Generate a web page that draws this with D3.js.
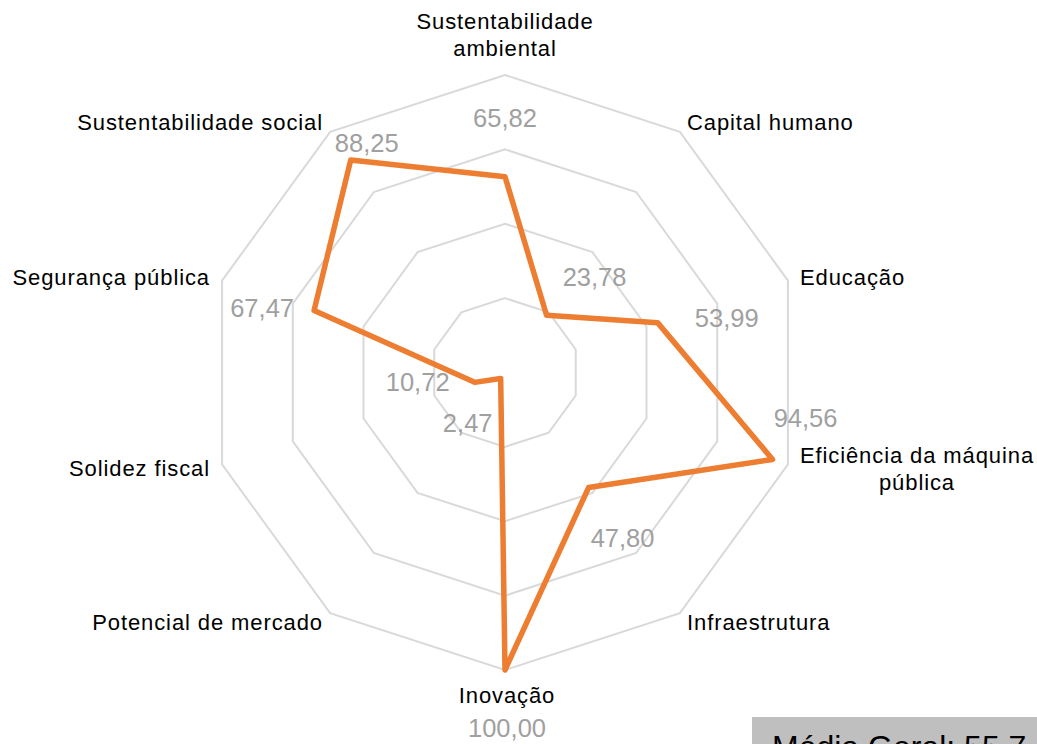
<!DOCTYPE html>
<html>
<head>
<meta charset="utf-8">
<script src="https://cdn.jsdelivr.net/npm/d3@7"></script>
<style>
  body { margin: 0; background: #fff; }
  svg { display: block; font-family: "Liberation Sans", Arial, sans-serif; }
</style>
</head>
<body>
<svg id="chart" width="1037" height="744"></svg>
<script>
// categories, clockwise from the top
const categories = [
  "Sustentabilidade ambiental", "Capital humano", "Educação",
  "Eficiência da máquina pública", "Infraestrutura", "Inovação",
  "Potencial de mercado", "Solidez fiscal", "Segurança pública",
  "Sustentabilidade social"
];
const scores = [65.82, 23.78, 53.99, 94.56, 47.80, 100.00, 2.47, 10.72, 67.47, 88.25];
const gridLevels = [25, 50, 75, 100];
const averageText = "Média Geral: 55,7";

// where each category label / value label sits (layout only)
const catLayout = [
  { lines: ["Sustentabilidade", "ambiental"], x: 505, y: 29, anchor: "middle" },
  { lines: ["Capital humano"], x: 687, y: 130, anchor: "start" },
  { lines: ["Educação"], x: 800, y: 285, anchor: "start" },
  { lines: ["Eficiência da máquina", "pública"], x: 917, y: 463, anchor: "middle" },
  { lines: ["Infraestrutura"], x: 687, y: 630, anchor: "start" },
  { lines: ["Inovação"], x: 507, y: 703, anchor: "middle" },
  { lines: ["Potencial de mercado"], x: 323, y: 630, anchor: "end" },
  { lines: ["Solidez fiscal"], x: 210, y: 476, anchor: "end" },
  { lines: ["Segurança pública"], x: 210, y: 285, anchor: "end" },
  { lines: ["Sustentabilidade social"], x: 323, y: 130, anchor: "end" }
];
const valueOffsets = [
  [0, -59], [48, -38], [69, -5], [33, -41], [34, 50],
  [2, 58], [-33, 45], [-57, 0], [-52, -2], [16, -17]
];

const cx = 505, cy = 372.5, R = 297.5;
const svg = d3.select("#chart");

const r = d3.scaleLinear().domain([0, 100]).range([0, R]);
const angle = d3.scaleLinear().domain([0, categories.length]).range([0, 2 * Math.PI]);

function pt(i, v) {
  const a = angle(i);
  return [cx + r(v) * Math.sin(a), cy - r(v) * Math.cos(a)];
}

const line = d3.line().curve(d3.curveLinearClosed);

// grid rings
svg.append("g").selectAll("path")
  .data(gridLevels)
  .join("path")
  .attr("d", lv => line(categories.map((c, i) => pt(i, lv))))
  .attr("fill", "none")
  .attr("stroke", "#d9d9d9")
  .attr("stroke-width", 2);

// series
svg.append("path")
  .datum(scores)
  .attr("d", d => line(d.map((v, i) => pt(i, v))))
  .attr("fill", "none")
  .attr("stroke", "#ed7d31")
  .attr("stroke-width", 5.5)
  .attr("stroke-linejoin", "round");

// category labels
const cat = svg.append("g").selectAll("text")
  .data(catLayout)
  .join("text")
  .attr("x", d => d.x)
  .attr("y", d => d.y)
  .attr("text-anchor", d => d.anchor)
  .attr("font-size", 22)
  .attr("letter-spacing", 0.9)
  .attr("fill", "#000");
cat.selectAll("tspan")
  .data(d => d.lines.map((t, k) => ({ t, k, x: d.x })))
  .join("tspan")
  .attr("x", d => d.x)
  .attr("dy", d => d.k === 0 ? 0 : 27)
  .text(d => d.t);

// value labels
const fmt = v => v.toFixed(2).replace(".", ",");
svg.append("g").selectAll("text")
  .data(scores)
  .join("text")
  .attr("x", (v, i) => pt(i, v)[0] + valueOffsets[i][0])
  .attr("y", (v, i) => pt(i, v)[1] + valueOffsets[i][1] + 9)
  .attr("text-anchor", "middle")
  .attr("font-size", 25.5)
  .attr("fill", "#a0a0a0")
  .text(fmt);

// average box
svg.append("rect")
  .attr("x", 752).attr("y", 717)
  .attr("width", 290).attr("height", 40)
  .attr("fill", "#bfbfbf");
svg.append("text")
  .attr("x", 772).attr("y", 758)
  .attr("font-size", 32)
  .attr("fill", "#000")
  .text(averageText);
</script>
</body>
</html>
